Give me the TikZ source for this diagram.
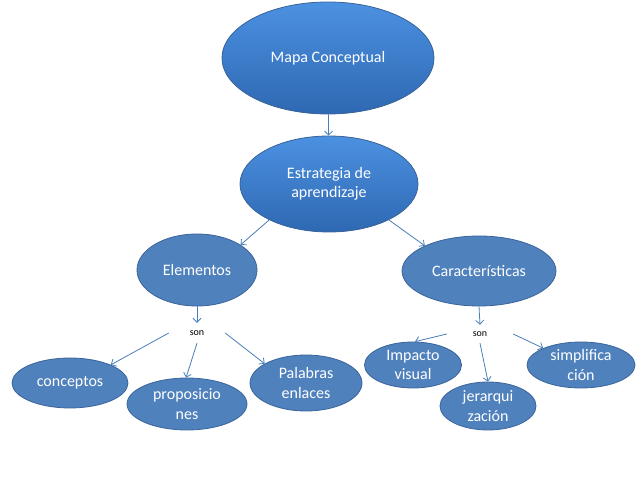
\documentclass[tikz,border=0pt]{standalone}
\usepackage{fontspec}
\setmainfont{Carlito}
\usepackage{tikz}
\usetikzlibrary{positioning,arrows.meta,shapes.geometric}
\definecolor{bluefill} {HTML}{4F81BD}
\definecolor{blueline} {HTML}{3A649A}
\definecolor{bluetop}  {HTML}{4C91E1}
\definecolor{bluebot}  {HTML}{2E68B2}
\definecolor{linkc}    {HTML}{4A7EBB}
\tikzset{
  idea/.style  = {ellipse, fill=bluefill, draw=blueline, line width=0.8pt,
                  text=white, align=center, inner sep=0pt,
                  font=\fontsize{16}{19.5}\selectfont},
  glow/.style  = {idea, top color=bluetop, bottom color=bluebot},
  word/.style  = {font=\fontsize{10}{12}\selectfont, text=black, inner sep=0pt},
  link/.style  = {-{Straight Barb[length=4pt,width=8pt]}, draw=linkc, line width=0.8pt},
}
\begin{document}
\begin{tikzpicture}[x=1pt, y=-1pt]
  \useasboundingbox (0,0) rectangle (638,478);

  % top
  \node[glow, minimum width=212pt, minimum height=112pt] (mapa) at (328,58) {Mapa Conceptual};
  \node[glow, minimum width=178pt, minimum height=96pt] (estra) at (329,184) {Estrategia de\\aprendizaje};

  % second level
  \node[idea, minimum width=120pt, minimum height=72pt] (elem) at (197,270) {Elementos};
  \node[idea, minimum width=154pt, minimum height=70pt] (carac) at (479,271) {Características};

  % link words
  \node[word, minimum width=56pt, minimum height=20pt] (son1) at (197,333) {son};
  \node[word, minimum width=66pt, minimum height=18pt] (son2) at (480,334) {son};

  % leaves
  \node[idea, minimum width=116pt, minimum height=50pt] (conc) at (70,383) {conceptos};
  \node[idea, minimum width=120pt, minimum height=52pt] (prop) at (187,404) {proposicio\\nes};
  \node[idea, minimum width=112pt, minimum height=56pt] (pal) at (306,383) {Palabras\\enlaces};
  \node[idea, minimum width=97pt, minimum height=46pt] (imp) at (413,365) {Impacto\\visual};
  \node[idea, minimum width=96pt, minimum height=48pt] (jer) at (488,406) {jerarqui\\zación};
  \node[idea, minimum width=108pt, minimum height=46pt] (simp) at (581,365) {simplifica\\ción};

  % arrows
  \draw[link] (mapa) -- (estra);
  \draw[link] (estra.211) -- (elem.30);
  \draw[link] (estra.329) -- (carac.155);
  \draw[link] (elem.south) -- (son1.north);
  \draw[link] (carac.south) -- (son2.north);
  \draw[link] (son1.west) -- (conc.24);
  \draw[link] (son1.south) -- (prop.92);
  \draw[link] (son1.east) -- (pal.155);
  \draw[link] (son2.west) -- (imp.85);
  \draw[link] (son2.south) -- (jer.north);
  \draw[link] (son2.east) -- (simp.156);
\end{tikzpicture}
\end{document}
